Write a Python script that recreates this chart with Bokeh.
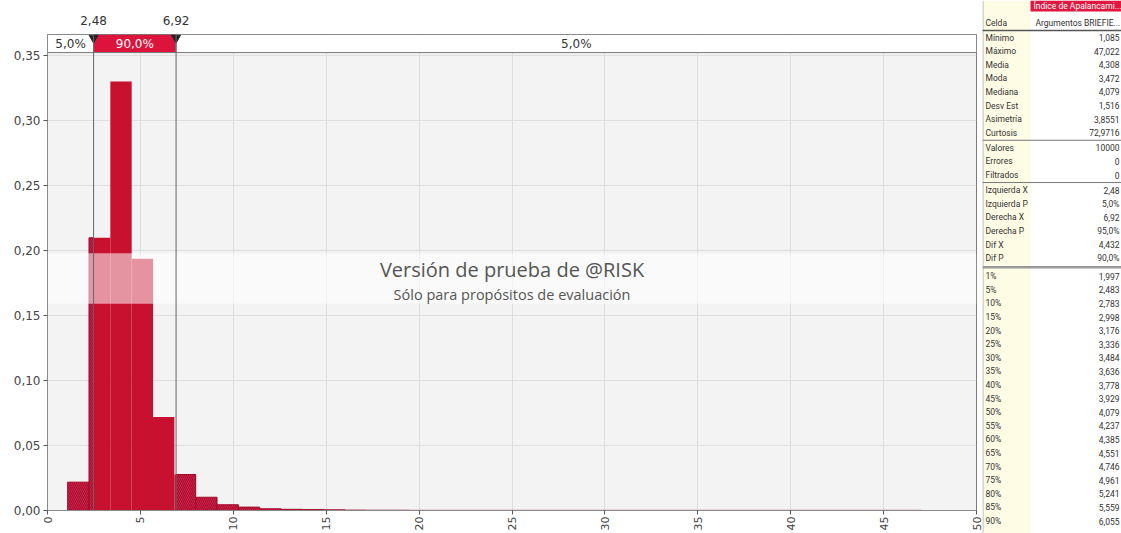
import math
import numpy as np
from bokeh.plotting import figure
from bokeh.layouts import row, column
from bokeh.models import ColumnDataSource, FixedTicker, Range1d, Span, CustomJSTickFormatter
from bokeh.core.properties import value
from bokeh.embed import file_html
from bokeh.resources import INLINE

# ---------------- data ----------------
bin_min = 1.085
bin_max = 47.022
n_bins = 40
density = [0.0218, 0.2098, 0.3300, 0.1936, 0.0720, 0.0277, 0.0102, 0.0044, 0.0026, 0.0013,
           0.0009, 0.0007, 0.0005, 0.0003, 0.0002, 0.0002, 0.0001, 0.0001, 0.0001, 0.0001,
           0.0001, 0.0001, 0.0001, 0.0001, 0.0001, 0.0001, 0.0001, 0.0001, 0.0001, 0.0001,
           0.0001, 0.0001, 0.0001, 0.0001, 0.0001, 0.0001, 0.0001, 0.0001, 0.0001, 0.0001]
left_x = 2.48
right_x = 6.92
band_labels = ["5,0%", "90,0%", "5,0%"]
x_ticks = [0, 5, 10, 15, 20, 25, 30, 35, 40, 45, 50]
y_ticks = [0.0, 0.05, 0.10, 0.15, 0.20, 0.25, 0.30, 0.35]

wm_title = "Versión de prueba de @RISK"
wm_sub = "Sólo para propósitos de evaluación"

table_title = "Índice de Apalancami..."
cell_label = "Celda"
cell_value = "Argumentos BRIEFIE..."
stat_labels = ["Mínimo", "Máximo", "Media", "Moda", "Mediana", "Desv Est", "Asimetría", "Curtosis"]
stat_values = ["1,085", "47,022", "4,308", "3,472", "4,079", "1,516", "3,8551", "72,9716"]
count_labels = ["Valores", "Errores", "Filtrados"]
count_values = ["10000", "0", "0"]
range_labels = ["Izquierda X", "Izquierda P", "Derecha X", "Derecha P", "Dif X", "Dif P"]
range_values = ["2,48", "5,0%", "6,92", "95,0%", "4,432", "90,0%"]
pct_labels = ["1%", "5%", "10%", "15%", "20%", "25%", "30%", "35%", "40%", "45%",
              "50%", "55%", "60%", "65%", "70%", "75%", "80%", "85%", "90%"]
pct_values = ["1,997", "2,483", "2,783", "2,998", "3,176", "3,336", "3,484", "3,636", "3,778", "3,929",
              "4,079", "4,237", "4,385", "4,551", "4,746", "4,961", "5,241", "5,559", "6,055"]

# ---------------- layout constants ----------------
X0, X1 = 0, 50
Y_PLOT_TOP = 0.3523
Y_END = 0.3662
MAIN_W = 982
TOP_H = 34
MAIN_H = 499
FONT = value("DejaVu Sans")

xr = Range1d(X0, X1)

# ---------------- histogram pieces ----------------
edges = np.linspace(bin_min, bin_max, n_bins + 1)
solid = dict(l=[], r=[], t=[])
hatch = dict(l=[], r=[], t=[])
for lo, hi, d in zip(edges[:-1], edges[1:], density):
    if lo < left_x:
        hatch["l"].append(lo); hatch["r"].append(min(hi, left_x)); hatch["t"].append(d)
    s_lo, s_hi = max(lo, left_x), min(hi, right_x)
    if s_hi > s_lo:
        solid["l"].append(s_lo); solid["r"].append(s_hi); solid["t"].append(d)
    if hi > right_x:
        hatch["l"].append(max(lo, right_x)); hatch["r"].append(hi); hatch["t"].append(d)

# ---------------- top strip with split values ----------------
top = figure(width=MAIN_W, height=TOP_H, x_range=xr, y_range=Range1d(0, TOP_H),
             output_backend="svg", toolbar_location=None,
             min_border_left=47, min_border_right=6, min_border_top=0, min_border_bottom=0,
             x_axis_location=None, y_axis_location=None,
             background_fill_color="white", border_fill_color="white")
top.grid.visible = False
top.outline_line_color = None
top.text(x=[left_x, right_x], y=[14, 14],
         text=[f"{v:.2f}".replace(".", ",") for v in (left_x, right_x)],
         text_align="center", text_baseline="middle", text_font=FONT,
         text_font_size="12px", text_color="#333333")

# ---------------- main histogram ----------------
p = figure(width=MAIN_W, height=MAIN_H, x_range=xr, y_range=Range1d(0, Y_END),
           output_backend="svg", toolbar_location=None,
           min_border_left=47, min_border_right=6, min_border_top=0, min_border_bottom=23,
           background_fill_color="#f3f3f3", border_fill_color="white")
p.outline_line_color = "#7a7a7a"

p.xaxis.ticker = FixedTicker(ticks=x_ticks)
p.yaxis.ticker = FixedTicker(ticks=y_ticks)
p.xgrid.ticker = FixedTicker(ticks=x_ticks)
p.ygrid.ticker = FixedTicker(ticks=y_ticks)
p.grid.grid_line_color = "#dddddd"
p.yaxis.formatter = CustomJSTickFormatter(code="return tick.toFixed(2).replace('.', ',');")
p.xaxis.major_label_orientation = math.pi / 2
for ax in (p.xaxis, p.yaxis):
    ax.axis_line_color = "#8a8a8a"
    ax.major_tick_line_color = "#555555"
    ax.major_tick_out = 4
    ax.major_tick_in = 0
    ax.minor_tick_line_color = None
    ax.major_label_text_font = "DejaVu Sans"
    ax.major_label_text_color = "#444444"
p.yaxis.major_label_text_font_size = "12px"
p.xaxis.major_label_text_font_size = "11px"
p.xaxis.major_label_standoff = 2
p.yaxis.major_label_standoff = 3

p.quad(left="l", right="r", bottom=0, top="t", source=ColumnDataSource(solid),
       fill_color="#c8102f", line_color=None)
p.quad(left="l", right="r", bottom=0, top="t", source=ColumnDataSource(hatch),
       fill_color="#dc1c48", line_color="#a00c2a", line_width=1,
       hatch_pattern="\\", hatch_color="#7a0c22", hatch_scale=4, hatch_weight=0.7)

# watermark band
p.quad(left=X0, right=X1, bottom=0.159, top=0.198, fill_color="white", fill_alpha=0.55, line_color=None)
p.text(x=[(X0 + X1) / 2], y=[0.1855], text=[wm_title], text_align="center", text_baseline="middle",
       text_font=value("Open Sans"), text_font_size="20px", text_color="#555555")
p.text(x=[(X0 + X1) / 2], y=[0.1665], text=[wm_sub], text_align="center", text_baseline="middle",
       text_font=value("Open Sans"), text_font_size="14.5px", text_color="#555555")

# percentile band at top
band_left = [X0, left_x, right_x]
band_right = [left_x, right_x, X1]
p.quad(left=band_left, right=band_right, bottom=Y_PLOT_TOP, top=Y_END,
       fill_color=["white", "#dc143c", "white"], line_color="#7a7a7a", line_width=1)
p.text(x=[(a + b) / 2 for a, b in zip(band_left, band_right)], y=[(Y_PLOT_TOP + Y_END) / 2] * 3,
       text=band_labels, text_align="center", text_baseline="middle", text_font=FONT,
       text_font_size="12px", text_color=["#333333", "white", "#333333"])

for xv in (left_x, right_x):
    p.add_layout(Span(location=xv, dimension="height", line_color="#666666", line_width=1))
p.scatter(x=[left_x, right_x], y=[Y_END - 0.0025] * 2, marker="inverted_triangle", size=9,
          fill_color="#222222", line_color="#222222")

# ---------------- stats table ----------------
TW, TH = 1121 - MAIN_W, TOP_H + MAIN_H
t = figure(width=TW, height=TH, x_range=Range1d(0, TW), y_range=Range1d(TH, 0),
           output_backend="svg", toolbar_location=None, min_border=0,
           x_axis_location=None, y_axis_location=None, background_fill_color="white")
t.grid.visible = False
t.outline_line_color = None
COL = 48
t.quad(left=[0], right=[COL], top=[0], bottom=[TH], fill_color="#fffce6", line_color=None)
t.quad(left=[COL], right=[TW], top=[0], bottom=[11], fill_color="#e0173f", line_color=None)
t.text(x=[COL + 3], y=[5.5], text=[table_title], text_baseline="middle", text_font=value("Roboto"),
       text_font_size="8.5px", text_color="white")
t.segment(x0=[0.5], y0=[0], x1=[0.5], y1=[TH], line_color="#b0b0b0", line_width=1)

TFONT = value("Roboto")
TSIZE = "8.5px"
step = 13.6
ys_lab, ys_txt, vals = [], [], []
y = 37.0
seps = []
groups = [(stat_labels, stat_values, 0), (count_labels, count_values, 1.5),
          (range_labels, range_values, 1.5), (pct_labels, pct_values, 4.5)]
for gi, (labs, vls, gap) in enumerate(groups):
    if gi > 0:
        seps.append(y - step / 2 + gap / 2)
        y += gap
    for lb, vl in zip(labs, vls):
        ys_lab.append(y); ys_txt.append(lb); vals.append(vl)
        y += step
# header row
t.text(x=[3], y=[22], text=[cell_label], text_baseline="middle", text_font=TFONT,
       text_font_size=TSIZE, text_color="#333333")
t.text(x=[COL + 5], y=[22], text=[cell_value], text_baseline="middle", text_font=TFONT,
       text_font_size=TSIZE, text_color="#333333")
t.segment(x0=[0], y0=[30], x1=[TW], y1=[30], line_color="#555555", line_width=1.5)
t.text(x=[3] * len(ys_lab), y=ys_lab, text=ys_txt, text_baseline="middle", text_font=TFONT,
       text_font_size=TSIZE, text_color="#333333")
t.text(x=[TW - 2] * len(ys_lab), y=ys_lab, text=vals, text_align="right", text_baseline="middle",
       text_font=TFONT, text_font_size=TSIZE, text_color="#333333")
t.segment(x0=[0] * len(seps), y0=seps, x1=[TW] * len(seps), y1=seps,
          line_color=["#777777", "#777777", "#999999"], line_width=[1, 1, 2.5])

layout = row(column(top, p), t)
open("out.html", "w").write(file_html(layout, INLINE))
